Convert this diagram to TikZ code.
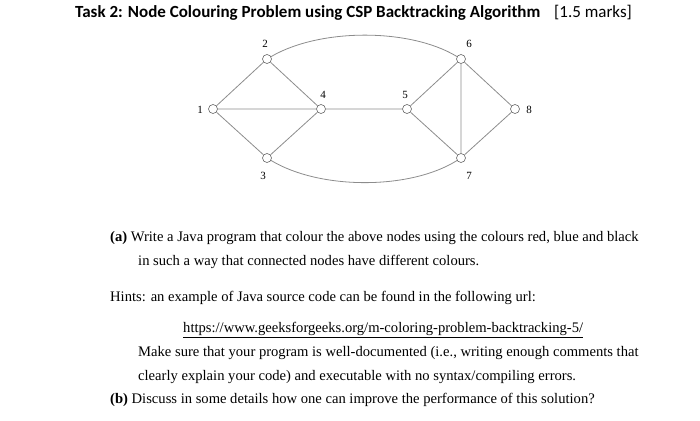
\documentclass[tikz,border=0pt]{standalone}
\usepackage{fontspec}
\setmainfont{Liberation Serif}
\newfontfamily\titlefont{Carlito}
\begin{document}
\begin{tikzpicture}[x=1pt,y=-1pt,
  vtx/.style={circle,draw=black!60,fill=white,inner sep=0pt,minimum size=9pt,line width=0.6pt},
  edge/.style={draw=black!45,line width=0.8pt},
  lab/.style={font=\fontsize{11}{11}\selectfont},
  txt/.style={anchor=west,inner sep=0pt,font=\fontsize{14.6}{16}\selectfont}]
\useasboundingbox (0,0) rectangle (700,420);
\node[vtx] (n1) at (213,109) {};
\node[vtx] (n2) at (267,59) {};
\node[vtx] (n3) at (267,158) {};
\node[vtx] (n4) at (321,109) {};
\node[vtx] (n5) at (407,109) {};
\node[vtx] (n6) at (461,59) {};
\node[vtx] (n7) at (461,158) {};
\node[vtx] (n8) at (515,109) {};
\draw[edge] (n1)--(n2) (n1)--(n3) (n1)--(n4) (n2)--(n4) (n3)--(n4) (n4)--(n5)
 (n5)--(n6) (n5)--(n7) (n6)--(n7) (n6)--(n8) (n7)--(n8);
\draw[edge] (n2) .. controls (320,28) and (410,28) .. (n6);
\draw[edge] (n3) .. controls (320,190) and (410,190) .. (n7);
\node[lab] (l1) at (200,110) {1};
\node[lab] (l2) at (265,44) {2};
\node[lab] (l3) at (263,176) {3};
\node[lab] (l4) at (323,95) {4};
\node[lab] (l5) at (405,95) {5};
\node[lab] (l6) at (469,44) {6};
\node[lab] (l7) at (469,176) {7};
\node[lab] (l8) at (529,110) {8};
\node[txt,font=\titlefont\bfseries\fontsize{17}{19}\selectfont] (t) at (75,13) {Task 2: Node Colouring Problem using CSP Backtracking Algorithm};
\node[txt,font=\titlefont\fontsize{17}{19}\selectfont] (m) at (554,13) {[1.5 marks]};
\node[txt] (a) at (110,238) {\textbf{(a)} Write a Java program that colour the above nodes using the colours red, blue and black};
\node[txt] (a2) at (138,262) {in such a way that connected nodes have different colours.};
\node[txt] (h) at (110,298) {Hints: an example of Java source code can be found in the following url:};
\node[txt] (u) at (183,330) {\underline{https://www.geeksforgeeks.org/m-coloring-problem-backtracking-5/}};
\node[txt] (s1) at (138,353) {Make sure that your program is well-documented (i.e., writing enough comments that};
\node[txt] (s2) at (138,377) {clearly explain your code) and executable with no syntax/compiling errors.};
\node[txt] (b) at (110,400) {\textbf{(b)} Discuss in some details how one can improve the performance of this solution?};
\end{tikzpicture}
\end{document}
